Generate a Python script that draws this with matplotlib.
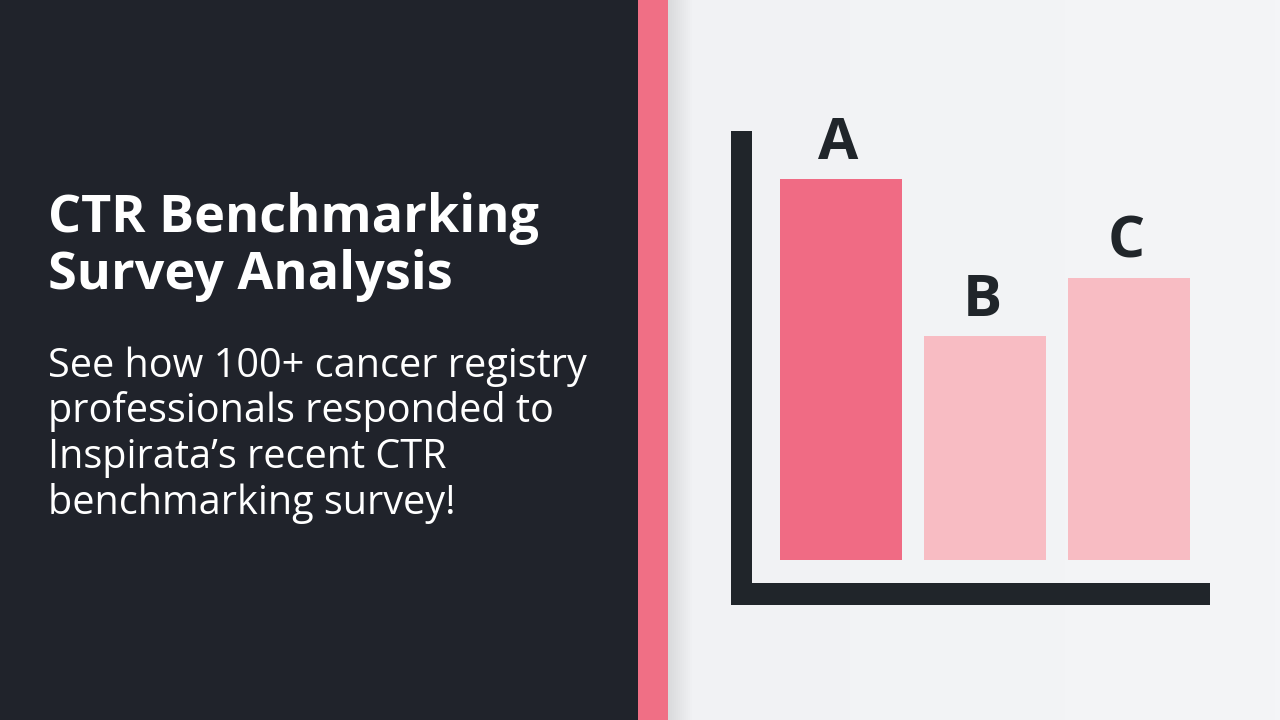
import numpy as np
import matplotlib.pyplot as plt
from matplotlib.patches import Rectangle

categories = ['A', 'B', 'C']
values = [381, 224, 282]
bar_colors = ['#f06b84', '#f8bcc3', '#f8bcc3']

title = 'CTR Benchmarking\nSurvey Analysis'
subtitle = ('See how 100+ cancer registry\nprofessionals responded to\n'
            'Inspirata\u2019s recent CTR\nbenchmarking survey!')

W, H = 1280, 720
fig = plt.figure(figsize=(12.8, 7.2), dpi=100)


def fx(px):
    return px / W


def fy(py):
    return 1 - py / H


# background: light gradient on the right
bg = fig.add_axes([0, 0, 1, 1])
bg.set_axis_off()
grad = np.linspace(0, 1, 256).reshape(1, -1)
bg.imshow(grad, extent=[0, 1, 0, 1], aspect='auto',
          cmap=plt.matplotlib.colors.LinearSegmentedColormap.from_list(
              'g', ['#eeeff1', '#f4f5f7']))
bg.set_xlim(0, 1)
bg.set_ylim(0, 1)
# soft shadow next to the stripe
for i in range(12):
    bg.add_patch(Rectangle((fx(668), 0), fx(2 * (12 - i)), 1,
                           color='#000000', alpha=0.008, lw=0))
bg.add_patch(Rectangle((0, 0), fx(638), 1, color='#20232b', lw=0))
bg.add_patch(Rectangle((fx(638), 0), fx(30), 1, color='#f06f85', lw=0))

# chart axes lines
bg.add_patch(Rectangle((fx(731), fy(605)), fx(21), fy(131) - fy(605),
                       color='#20252a', lw=0))
bg.add_patch(Rectangle((fx(731), fy(605)), fx(479), fy(583) - fy(605),
                       color='#20252a', lw=0))

fig.text(fx(48), fy(192), title, color='white', fontsize=37.5,
         fontweight='bold', family='Open Sans', va='top', linespacing=1.1)
fig.text(fx(48), fy(346), subtitle, color='white', fontsize=28.5,
         family='Open Sans', va='top', linespacing=1.16)

# bar chart
ax = fig.add_axes([fx(760), fy(560), fx(440), fy(131) - fy(560)])
ax.set_axis_off()
x = np.arange(len(categories))
ax.bar(x, values, width=0.847, color=bar_colors)
for xi, v, c in zip(x, values, categories):
    ax.text(xi - 0.02, v + 6, c, ha='center', va='bottom', fontsize=42,
            fontweight='bold', family='Open Sans', color='#20252a')
ax.set_xlim(-81 / 144, 359 / 144)
ax.set_ylim(0, 429)

fig.savefig('out.png', dpi=100)
